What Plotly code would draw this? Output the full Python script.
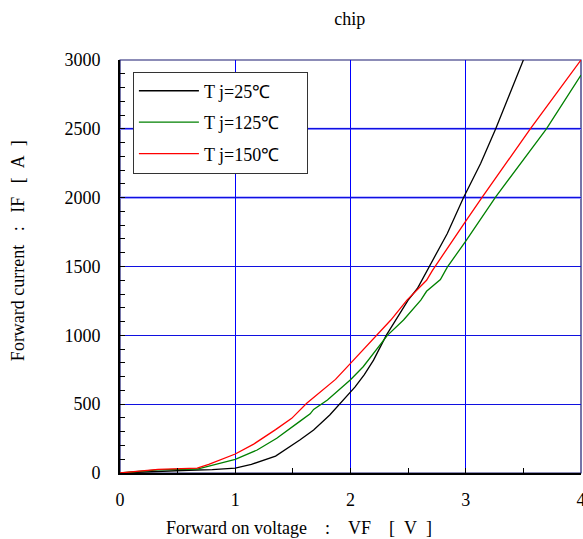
import plotly.graph_objects as go

FONT = "Liberation Serif"

names = ["T j=25℃", "T j=125℃", "T j=150℃"]
colors = ["#000000", "#008000", "#ff0000"]

vf_25 = [0, 0.2, 0.4, 0.6, 0.8, 1.0, 1.14, 1.35, 1.56, 1.68, 1.82, 1.95, 2.04, 2.12,
         2.20, 2.31, 2.50, 2.58, 2.68, 2.84, 2.98, 3.13, 3.26, 3.5]
if_25 = [0, 8, 15, 20, 25, 35, 63, 123, 240, 312, 421, 537, 625, 715,
         820, 1000, 1256, 1340, 1490, 1740, 2000, 2250, 2500, 3000]

vf_125 = [0, 0.33, 0.67, 0.81, 1.0, 1.19, 1.36, 1.56, 1.65, 1.68, 1.80, 2.0, 2.11,
          2.32, 2.46, 2.61, 2.66, 2.78, 2.84, 3.0, 3.26, 3.70, 4.0]
if_125 = [0, 22, 29, 58, 99, 167, 252, 375, 430, 462, 530, 678, 772,
          1000, 1111, 1256, 1320, 1405, 1495, 1685, 2006, 2500, 2890]

vf_150 = [0, 0.33, 0.67, 0.77, 1.0, 1.16, 1.35, 1.49, 1.62, 1.87, 2.01, 2.23, 2.35,
          2.49, 2.56, 2.66, 2.71, 2.86, 3.0, 3.14, 3.56, 4.0]
if_150 = [0, 27, 36, 63, 138, 210, 315, 397, 506, 680, 805, 1000, 1111,
          1256, 1317, 1400, 1470, 1660, 1830, 2000, 2500, 3000]

x_ticks = [0, 1, 2, 3, 4]
y_ticks = [0, 500, 1000, 1500, 2000, 2500, 3000]
light_grid = [2000, 2500]

series = [(vf_25, if_25), (vf_125, if_125), (vf_150, if_150)]

NB = "\u00a0"
fig = go.Figure()
for (xs, ys), name, col in zip(series, names, colors):
    fig.add_trace(go.Scatter(x=xs, y=ys, mode="lines", name=name + NB * 5,
                             line=dict(color=col, width=1.3),
                             legendgroup=name))

# frame (top/right in navy)
fig.add_shape(type="rect", xref="paper", yref="paper", x0=0, x1=1, y0=0, y1=1,
              line=dict(color="#1a1a70", width=1.2), layer="below")
for yv in light_grid:
    fig.add_shape(type="line", xref="paper", x0=0, x1=1, y0=yv, y1=yv,
                  line=dict(color="#7f7fff", width=2.2), layer="below")

fig.update_layout(
    width=583, height=539,
    margin=dict(l=120, r=2, t=60, b=66, autoexpand=False),
    paper_bgcolor="white", plot_bgcolor="white",
    font=dict(family=FONT, size=18, color="black"),
    showlegend=True,
    legend=dict(x=0.028, y=0.972, xanchor="left", yanchor="top",
                bordercolor="#333333", borderwidth=1, bgcolor="white",
                font=dict(family=FONT, size=18, color="black"),
                traceorder="grouped", tracegroupgap=5,
                itemwidth=60),
    title=dict(text="chip", x=0.6, xanchor="center", y=0.966, yanchor="middle",
               font=dict(family=FONT, size=18, color="black")),
    xaxis=dict(range=[0, 4], tickvals=x_ticks, ticktext=[str(v) for v in x_ticks],
               showgrid=True, gridcolor="#0000ff", gridwidth=1,
               showline=True, linecolor="black", linewidth=2,
               ticks="inside", ticklen=5, tickcolor="black",
               minor=dict(dtick=0.5, ticks="inside", ticklen=5, tickcolor="black", showgrid=False),
               zeroline=False, ticklabelstandoff=9, ticklabeloverflow="allow",
               automargin=False,
               tickfont=dict(family=FONT, size=18, color="black")),
    yaxis=dict(range=[0, 3000], tickvals=y_ticks, ticktext=[str(v) for v in y_ticks],
               showgrid=True, gridcolor="#1010e0", gridwidth=1,
               showline=True, linecolor="black", linewidth=2,
               ticks="inside", ticklen=5, tickcolor="black",
               minor=dict(dtick=100, ticks="inside", ticklen=5, tickcolor="black", showgrid=False),
               zeroline=False, ticklabelstandoff=14, ticklabeloverflow="allow",
               automargin=False,
               tickfont=dict(family=FONT, size=18, color="black")),
)

fig.add_annotation(text="Forward on voltage" + NB * 4 + ":" + NB * 4 + "VF" + NB * 4 + "[" + NB * 2 + "V" + NB * 2 + "]",
                   xref="paper", yref="paper", x=0.388, y=-0.133, xanchor="center",
                   yanchor="middle", showarrow=False,
                   font=dict(family=FONT, size=18, color="black"))
fig.add_annotation(text="Forward current" + NB * 3 + ":" + NB * 3 + "IF" + NB * 3 + "[" + NB * 2 + "A" + NB * 2 + "]",
                   xref="paper", yref="paper", x=-0.221, y=0.5375, xanchor="center",
                   yanchor="middle", showarrow=False, textangle=-90,
                   font=dict(family=FONT, size=18, color="black"))

fig.write_html("out.html")
